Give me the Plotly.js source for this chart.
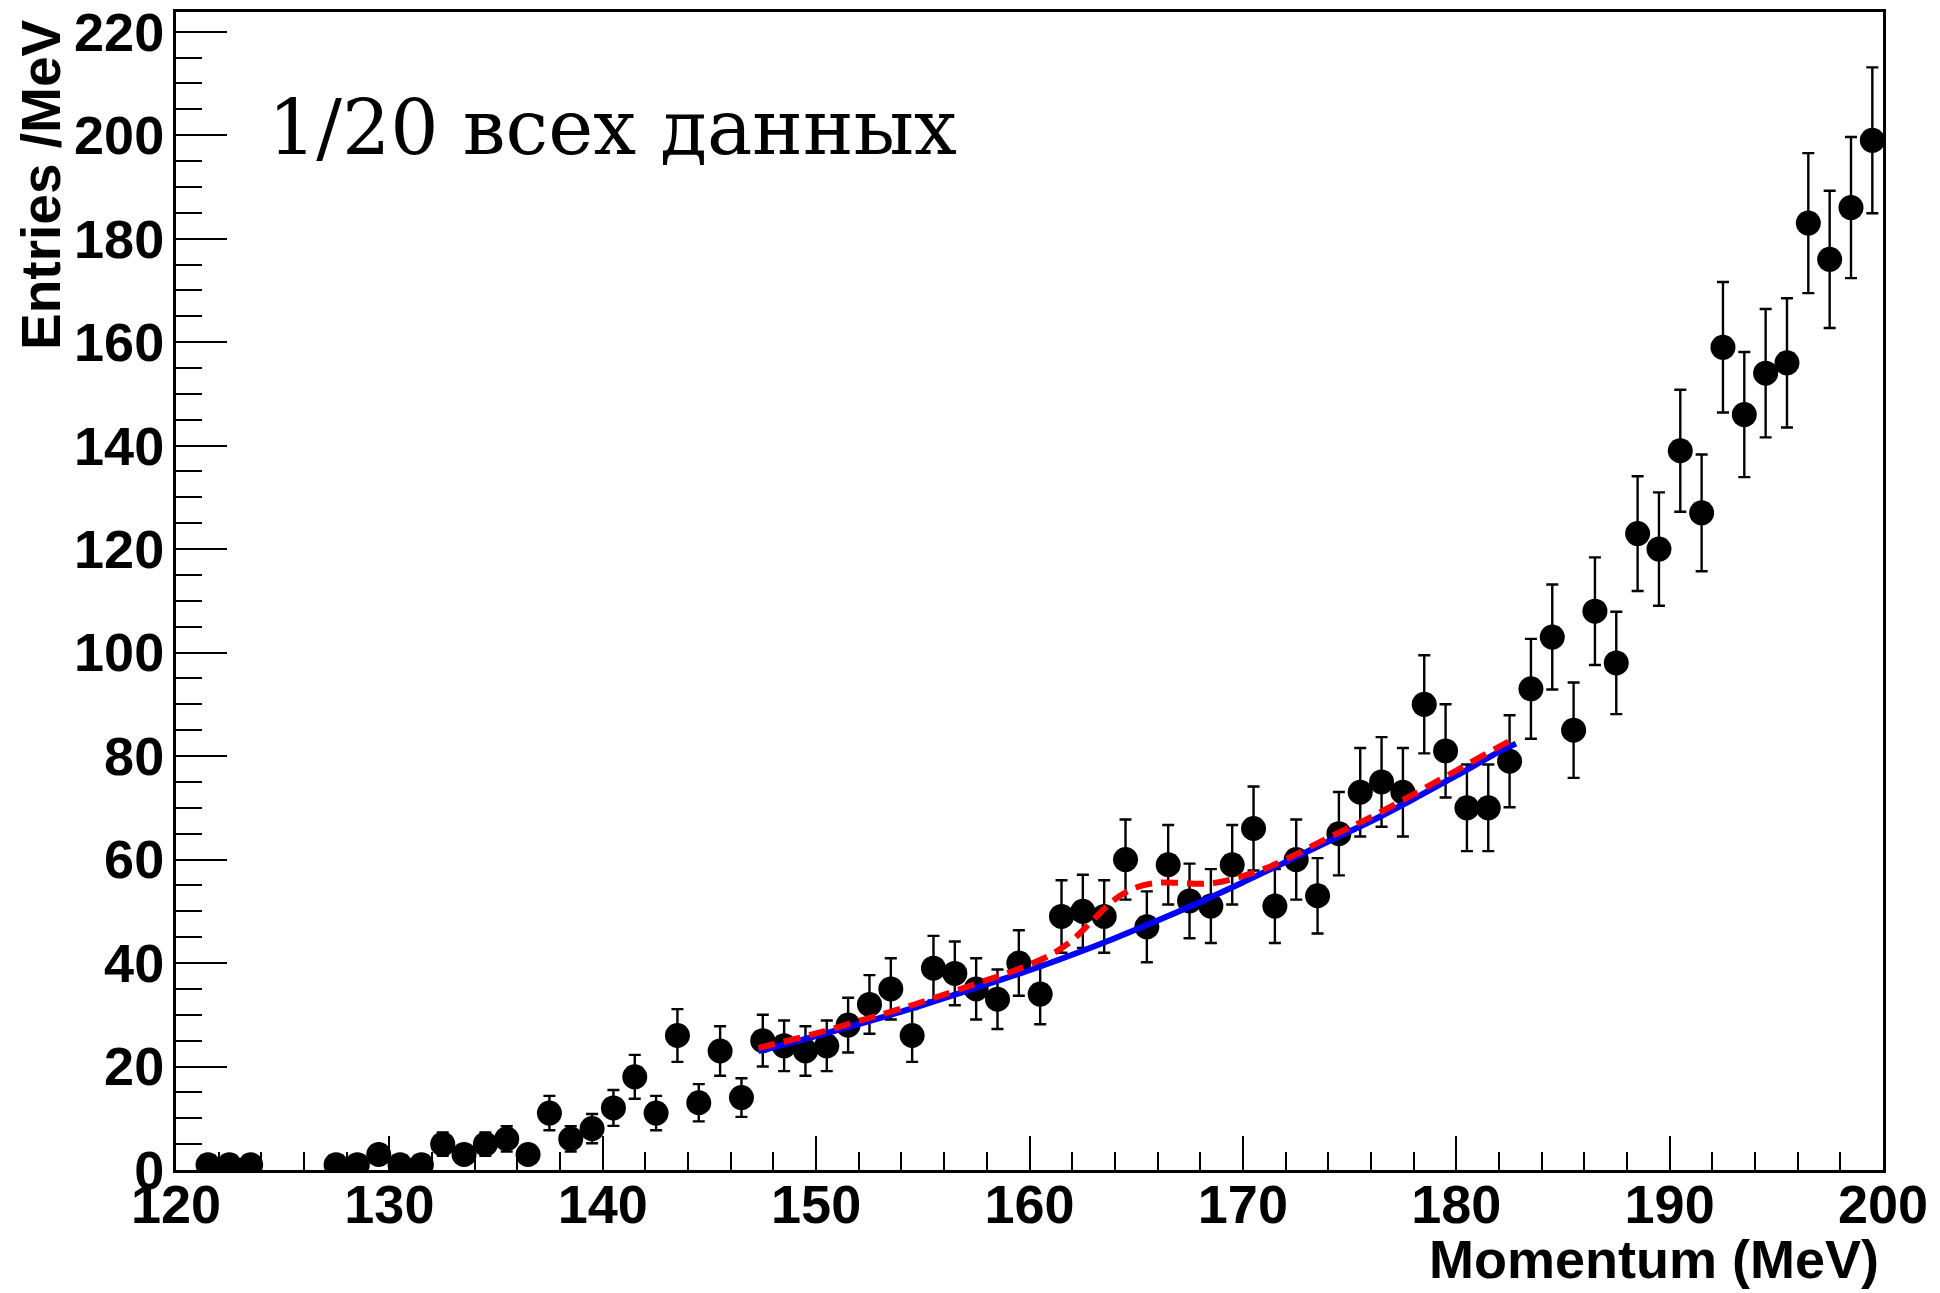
<!DOCTYPE html>
<html>
<head>
<meta charset="utf-8">
<script src="https://cdn.plot.ly/plotly-3.0.1.min.js"></script>
<style>
  html, body { margin: 0; padding: 0; background: #ffffff; }
  #chart { width: 1940px; height: 1293px; }
</style>
</head>
<body>
<div id="chart"></div>
<script>
// Histogram bins (1 MeV wide, bin centres) with non-zero entries
const momentum = [121.5,122.5,123.5,127.5,128.5,129.5,130.5,131.5,132.5,133.5,134.5,135.5,136.5,137.5,138.5,139.5,
  140.5,141.5,142.5,143.5,144.5,145.5,146.5,147.5,148.5,149.5,150.5,151.5,152.5,153.5,154.5,155.5,156.5,157.5,158.5,159.5,
  160.5,161.5,162.5,163.5,164.5,165.5,166.5,167.5,168.5,169.5,170.5,171.5,172.5,173.5,174.5,175.5,176.5,177.5,178.5,179.5,
  180.5,181.5,182.5,183.5,184.5,185.5,186.5,187.5,188.5,189.5,190.5,191.5,192.5,193.5,194.5,195.5,196.5,197.5,198.5,199.5];
const entries = [1,1,1,1,1,3,1,1,5,3,5,6,3,11,6,8,
  12,18,11,26,13,23,14,25,24,23,24,28,32,35,26,39,38,35,33,40,
  34,49,50,49,60,47,59,52,51,59,66,51,60,53,65,73,75,73,90,81,
  70,70,79,93,103,85,108,98,123,120,139,127,159,146,154,156,183,176,186,199];
// Poisson (sqrt N) uncertainties of the histogram bins
const entryErrors = entries.map(n => Math.sqrt(n));

// Background-only fit (blue, solid)
const fitBgX = [147.3,148,150,152,154,156,158,160,162,164,166,168,170,172,174,176,178,180,182,182.8];
const fitBgY = [23.0,23.7,25.9,28.2,30.6,33.2,35.9,38.6,41.6,44.8,48.2,51.8,55.6,59.5,63.5,67.4,71.7,76.2,80.8,82.4];

// Signal + background fit (red, dashed)
const fitSbX = [147.3,148,150,152,154,156,158,159,160,161,162,163,164,165,166,167,168,169,170,171,172,174,176,178,180,182,182.8];
const fitSbY = [23.6,24.3,26.4,28.8,31.2,33.9,36.7,38.1,39.7,41.6,44.4,48.4,52.3,54.6,55.5,55.5,55.3,55.7,56.8,58.2,60.0,64.2,68.2,72.6,77.2,81.8,83.6];

const xTitle = 'Momentum (MeV)';
const yTitle = 'Entries /MeV';
const note = '1/20 всех данных';

const sansFamily = 'Liberation Sans, Arial, Helvetica, sans-serif';
const tickFont = {family: sansFamily, size: 54, color: '#000000', weight: 700};

const traces = [
  {
    type: 'scatter', mode: 'markers', x: momentum, y: entries,
    marker: {color: '#000000', size: 25, symbol: 'circle'},
    error_y: {type: 'data', array: entryErrors, visible: true, color: '#000000', thickness: 2.4, width: 6},
    hoverinfo: 'x+y', showlegend: false
  },
  {
    type: 'scatter', mode: 'lines', x: fitBgX, y: fitBgY,
    line: {color: '#0000ff', width: 6, shape: 'spline'},
    showlegend: false
  },
  {
    type: 'scatter', mode: 'lines', x: fitSbX, y: fitSbY,
    line: {color: '#ff0000', width: 6, shape: 'spline', dash: '17px,9px'},
    showlegend: false
  }
];

const layout = {
  width: 1940, height: 1293,
  margin: {l: 176, r: 57, t: 12, b: 123, pad: 0},
  paper_bgcolor: '#ffffff', plot_bgcolor: '#ffffff',
  showlegend: false,
  xaxis: {
    range: [120, 200], autorange: false,
    tickmode: 'linear', tick0: 120, dtick: 10,
    ticks: 'inside', ticklen: 34, tickwidth: 2, tickcolor: '#000000',
    minor: {ticks: 'inside', dtick: 2, ticklen: 18, tickwidth: 2, tickcolor: '#000000', showgrid: false},
    showline: true, linecolor: '#000000', linewidth: 3, mirror: true,
    showgrid: false, zeroline: false,
    tickfont: tickFont, ticklabelstandoff: -15
  },
  yaxis: {
    range: [0, 223.8], autorange: false,
    tickmode: 'linear', tick0: 0, dtick: 20,
    ticks: 'inside', ticklen: 51, tickwidth: 2, tickcolor: '#000000',
    minor: {ticks: 'inside', dtick: 5, ticklen: 26, tickwidth: 2, tickcolor: '#000000', showgrid: false},
    showline: true, linecolor: '#000000', linewidth: 3, mirror: true,
    showgrid: false, zeroline: false,
    tickfont: tickFont, ticklabelstandoff: -2
  },
  annotations: [
    {
      text: note, xref: 'paper', yref: 'paper', x: 0.0528, y: 0.9005,
      xanchor: 'left', yanchor: 'middle', showarrow: false,
      font: {family: 'DejaVu Serif, Liberation Serif, serif', size: 76, color: '#000000'}
    },
    {
      text: xTitle, xref: 'paper', yref: 'paper', x: 0.999, y: -0.1048,
      xanchor: 'right', yanchor: 'bottom', showarrow: false,
      font: {family: sansFamily, size: 54, color: '#000000', weight: 700}
    },
    {
      text: yTitle, xref: 'paper', yref: 'paper', x: -0.079, y: 0.995,
      xanchor: 'center', yanchor: 'top', textangle: -90, showarrow: false,
      font: {family: sansFamily, size: 55, color: '#000000', weight: 700}
    }
  ]
};

Plotly.newPlot('chart', traces, layout, {staticPlot: true, displayModeBar: false});
</script>
</body>
</html>
